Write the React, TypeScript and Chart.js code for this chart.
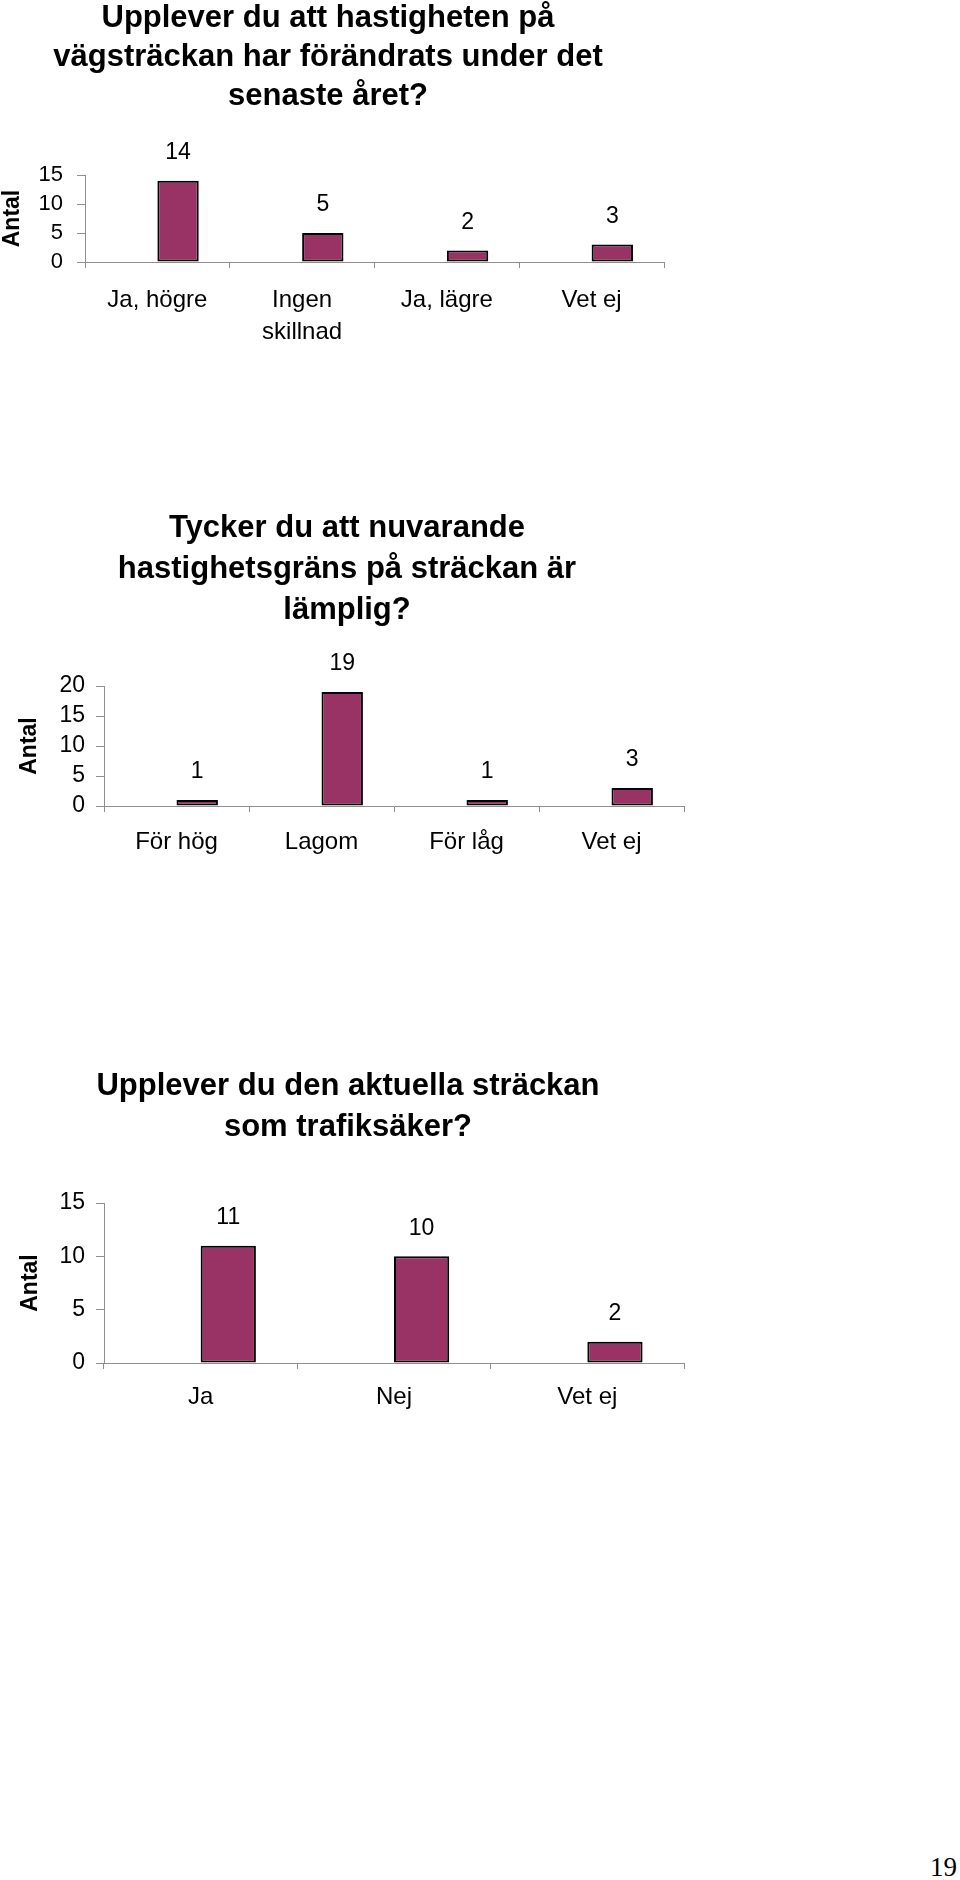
import React, { useEffect, useRef } from 'react';
import { Chart, registerables } from 'chart.js';

Chart.register(...registerables);

const FONT = "'Liberation Sans', Arial, Helvetica, sans-serif";
const BAR_COLOR = '#993366';
const AXIS_COLOR = '#8f8f8f';
const Y_TITLE = 'Antal';
const Y_STEP = 5;
const VALUE_FONT_SIZE = 23;
const VALUE_OFFSET = 28;

// Chart 1
const q1Title = ['Upplever du att hastigheten på', 'vägsträckan har förändrats under det', 'senaste året?'];
const q1Labels: (string | string[])[] = ['Ja, högre', ['Ingen', 'skillnad'], 'Ja, lägre', 'Vet ej'];
const q1Values = [14, 5, 2, 3];
const q1Max = 15;

// Chart 2
const q2Title = ['Tycker du att nuvarande', 'hastighetsgräns på sträckan är', 'lämplig?'];
const q2Labels = ['För hög', 'Lagom', 'För låg', 'Vet ej'];
const q2Values = [1, 19, 1, 3];
const q2Max = 20;

// Chart 3
const q3Title = ['Upplever du den aktuella sträckan', 'som trafiksäker?'];
const q3Labels = ['Ja', 'Nej', 'Vet ej'];
const q3Values = [11, 10, 2];
const q3Max = 15;

const PAGE_NUMBER = '19';

const valueLabels = {
  id: 'valueLabels',
  afterDatasetsDraw(chart: any) {
    const ctx = chart.ctx;
    const meta = chart.getDatasetMeta(1);
    const data = chart.data.datasets[1].data;
    ctx.save();
    ctx.font = `${VALUE_FONT_SIZE}px ${FONT}`;
    ctx.fillStyle = '#000';
    ctx.textAlign = 'center';
    ctx.textBaseline = 'middle';
    meta.data.forEach((el: any, i: number) => {
      const v = data[i];
      if (v == null) return;
      ctx.fillText(String(v), el.x, el.y - VALUE_OFFSET);
    });
    ctx.restore();
  },
};

type Layout = {
  left: number;
  top: number;
  width: number;
  height: number;
  padRight: number;
  yWidth: number;
  xHeight: number;
  titleLine: number;
  titleBottom: number;
  yTitlePad: number;
  yTickPad: number;
  xTickPad: number;
  yTickSize: number;
};

function BarChart(props: {
  title: string[];
  labels: (string | string[])[];
  values: number[];
  max: number;
  layout: Layout;
}) {
  const ref = useRef<HTMLCanvasElement | null>(null);
  const { title, labels, values, max, layout } = props;

  useEffect(() => {
    if (!ref.current) return;
    const chart = new Chart(ref.current, {
      type: 'bar',
      data: {
        labels,
        datasets: [
          {
            label: 'tom',
            data: labels.map(() => null),
            backgroundColor: 'rgba(0,0,0,0)',
          },
          {
            label: Y_TITLE,
            data: values,
            backgroundColor: BAR_COLOR,
            borderColor: '#000',
            borderWidth: 2,
            borderSkipped: false,
          },
        ],
      },
      options: {
        responsive: false,
        animation: false,
        devicePixelRatio: 1,
        categoryPercentage: 2 / 3.5,
        barPercentage: 1,
        layout: { padding: { left: 0, right: layout.padRight, top: 0, bottom: 0 } },
        plugins: {
          legend: { display: false },
          tooltip: { enabled: false },
          title: {
            display: true,
            text: title,
            color: '#000',
            font: { family: FONT, size: 31, weight: 'bold', lineHeight: layout.titleLine / 31 },
            padding: { top: 0, bottom: layout.titleBottom },
          },
        },
        scales: {
          x: {
            offset: true,
            grid: {
              offset: true,
              drawOnChartArea: false,
              drawTicks: true,
              tickLength: 6,
              color: AXIS_COLOR,
              lineWidth: 1,
            },
            border: { display: true, color: AXIS_COLOR, width: 1 },
            ticks: {
              color: '#000',
              padding: layout.xTickPad,
              maxRotation: 0,
              autoSkip: false,
              font: { family: FONT, size: 24, lineHeight: 32 / 24 },
            },
            afterFit(scale: any) {
              scale.height = layout.xHeight;
            },
          },
          y: {
            min: 0,
            max,
            grid: {
              drawOnChartArea: false,
              drawTicks: true,
              tickLength: 8,
              color: AXIS_COLOR,
              lineWidth: 1,
            },
            border: { display: true, color: AXIS_COLOR, width: 1 },
            ticks: {
              stepSize: Y_STEP,
              autoSkip: false,
              color: '#000',
              padding: layout.yTickPad,
              font: { family: FONT, size: layout.yTickSize },
            },
            title: {
              display: true,
              text: Y_TITLE,
              color: '#000',
              font: { family: FONT, size: 23, weight: 'bold', lineHeight: 1.2 },
              padding: { top: layout.yTitlePad, bottom: 0 },
            },
            afterFit(scale: any) {
              scale.width = layout.yWidth;
            },
          },
        },
      },
      plugins: [valueLabels as any],
    });
    return () => chart.destroy();
  }, []);

  return (
    <canvas
      ref={ref}
      width={layout.width}
      height={layout.height}
      style={{
        position: 'absolute',
        left: layout.left,
        top: layout.top,
        width: layout.width,
        height: layout.height,
      }}
    />
  );
}

// chart 1: title lines ~18/57/96, plot 85..664 x 175..262
const layout1: Layout = {
  left: -8, top: -1, width: 708, height: 360, padRight: 36,
  yWidth: 93, xHeight: 97, titleLine: 39, titleBottom: 59, yTitlePad: 7, yTickPad: 14, xTickPad: 16, yTickSize: 22,
};
// chart 2: title lines ~528/569/610, plot 104..684 x 686..806
const layout2: Layout = {
  left: 10, top: 508, width: 690, height: 360, padRight: 16,
  yWidth: 94, xHeight: 62, titleLine: 41, titleBottom: 55, yTitlePad: 6, yTickPad: 11, xTickPad: 14, yTickSize: 23,
};
// chart 3: title lines ~1086/1127, plot 104..684 x 1203..1363
const layout3: Layout = {
  left: 12, top: 1066, width: 700, height: 360, padRight: 28,
  yWidth: 92, xHeight: 63, titleLine: 41, titleBottom: 55, yTitlePad: 5, yTickPad: 11, xTickPad: 12, yTickSize: 23,
};

export default function App() {
  return (
    <div
      style={{
        position: 'absolute',
        left: 0,
        top: 0,
        width: 960,
        height: 1880,
        background: '#fff',
        overflow: 'hidden',
      }}
    >
      <BarChart title={q1Title} labels={q1Labels} values={q1Values} max={q1Max} layout={layout1} />
      <BarChart title={q2Title} labels={q2Labels} values={q2Values} max={q2Max} layout={layout2} />
      <BarChart title={q3Title} labels={q3Labels} values={q3Values} max={q3Max} layout={layout3} />
      <div
        style={{
          position: 'absolute',
          left: 930,
          top: 1854,
          fontFamily: "'Liberation Serif', 'Times New Roman', serif",
          fontSize: 27,
          lineHeight: '27px',
          color: '#000',
        }}
      >
        {PAGE_NUMBER}
      </div>
    </div>
  );
}
